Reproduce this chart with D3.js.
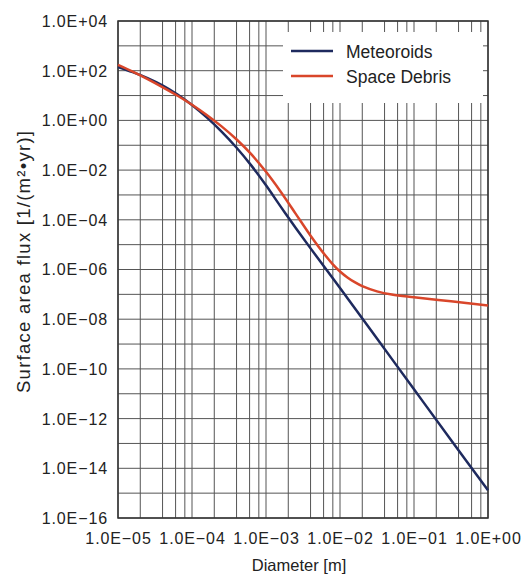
<!DOCTYPE html>
<html>
<head>
<meta charset="utf-8">
<script src="https://cdn.jsdelivr.net/npm/d3@7"></script>
<style>
  body { margin: 0; background: #fff; }
  text { font-family: "Liberation Sans", Arial, sans-serif; fill: #222; }
</style>
</head>
<body>
<svg id="chart" width="522" height="574"></svg>
<script>
// ——— DATA —————————————————————————————————————————————————————————
const meteoroidDiam = [1e-5, 1.58e-5, 2.51e-5, 3.98e-5, 6.31e-5, 1e-4, 1.58e-4, 2.51e-4, 3.98e-4, 6.31e-4,
    1e-3, 1.58e-3, 2.51e-3, 3.98e-3, 1e-2, 3.16e-2, 0.1, 0.316, 1.0];
const meteoroidFlux = [141, 87.1, 50.1, 25.7, 11.2, 4.17, 1.32, 0.355, 0.0813, 0.0155,
    2.45e-3, 3.39e-4, 4.79e-5, 7.24e-6, 1.82e-7, 1.66e-9, 1.51e-11, 1.38e-13, 1.32e-15];

const debrisDiam = [1e-5, 1.58e-5, 2.51e-5, 3.98e-5, 6.31e-5, 1e-4, 1.58e-4, 2.51e-4, 3.98e-4, 6.31e-4,
    1e-3, 1.58e-3, 2.51e-3, 3.98e-3, 6.31e-3, 7.94e-3, 1e-2, 1.26e-2, 1.58e-2, 2.0e-2,
    3.16e-2, 5.01e-2, 0.1, 0.316, 1.0];
const debrisFlux = [170, 91.2, 45.7, 21.9, 10, 4.27, 1.66, 0.575, 0.174, 0.0437,
    8.51e-3, 1.35e-3, 1.78e-4, 2.34e-5, 3.72e-6, 1.66e-6, 8.32e-7, 4.79e-7, 3.09e-7, 2.14e-7,
    1.32e-7, 9.77e-8, 7.59e-8, 5.25e-8, 3.55e-8];

const xTicks = [1e-5, 1e-4, 1e-3, 1e-2, 1e-1, 1e0];
const yTicks = [1e4, 1e2, 1e0, 1e-2, 1e-4, 1e-6, 1e-8, 1e-10, 1e-12, 1e-14, 1e-16];
const gridMult = [1, 2, 4, 6, 8];

const seriesNames = ["Meteoroids", "Space Debris"];
const seriesColors = ["#1e2a5e", "#d9462a"];

// ——— LAYOUT ———————————————————————————————————————————————————————
const margin = { top: 21, right: 34, bottom: 56, left: 118 };
const width = 522 - margin.left - margin.right;
const height = 574 - margin.top - margin.bottom;

const svg = d3.select("#chart");
const g = svg.append("g").attr("transform", `translate(${margin.left},${margin.top})`);

// ——— SCALES ———————————————————————————————————————————————————————
const xScale = d3.scaleLog().domain([1e-5, 1]).range([0, width]);
const yScale = d3.scaleLog().domain([1e-16, 1e4]).range([height, 0]);

function sciLabel(v) {
    const e = Math.round(Math.log10(v));
    const sign = e < 0 ? "\u2212" : "+";
    return "1.0E" + sign + String(Math.abs(e)).padStart(2, "0");
}

// ——— GRID —————————————————————————————————————————————————————————
const xGrid = [];
for (let e = -5; e < 0; e++) gridMult.forEach(m => xGrid.push(m * Math.pow(10, e)));
xGrid.push(1);
const yGrid = d3.range(-16, 5).map(e => Math.pow(10, e));

g.append("g")
    .selectAll("line")
    .data(xGrid)
    .enter().append("line")
    .attr("x1", d => xScale(d)).attr("x2", d => xScale(d))
    .attr("y1", 0).attr("y2", height)
    .attr("stroke", "#555").attr("stroke-width", 1);

g.append("g")
    .selectAll("line")
    .data(yGrid)
    .enter().append("line")
    .attr("y1", d => yScale(d)).attr("y2", d => yScale(d))
    .attr("x1", 0).attr("x2", width)
    .attr("stroke", "#555").attr("stroke-width", 1);

g.append("rect")
    .attr("width", width).attr("height", height)
    .attr("fill", "none").attr("stroke", "#333").attr("stroke-width", 1.5);

// ——— AXES —————————————————————————————————————————————————————————
const xaxis = d3.axisBottom(xScale).tickValues(xTicks).tickFormat(sciLabel).tickSize(0).tickPadding(0);
const yaxis = d3.axisLeft(yScale).tickValues(yTicks).tickFormat(sciLabel).tickSize(0).tickPadding(0);

const gx = g.append("g").attr("transform", `translate(0,${height})`).call(xaxis);
gx.select(".domain").remove();
gx.selectAll("text")
    .attr("y", 26).attr("dy", null)
    .style("font-size", "16px").style("letter-spacing", "0.9px")
    .style("font-family", '"Liberation Sans", Arial, sans-serif').attr("fill", "#222");

const gy = g.append("g").call(yaxis);
gy.select(".domain").remove();
gy.selectAll("text")
    .attr("x", -10).attr("dy", "0.34em")
    .style("font-size", "16px").style("letter-spacing", "0.9px")
    .style("font-family", '"Liberation Sans", Arial, sans-serif').attr("fill", "#222");

svg.append("text")
    .attr("x", 299).attr("y", 571)
    .attr("text-anchor", "middle")
    .style("font-size", "16.5px")
    .text("Diameter [m]");

svg.append("text")
    .attr("transform", "translate(30,262) rotate(-90)")
    .attr("text-anchor", "middle")
    .attr("textLength", 262).attr("lengthAdjust", "spacing")
    .style("font-size", "18.5px")
    .text("Surface area flux [1/(m\u00b2\u2022yr)]");

// ——— LINES ————————————————————————————————————————————————————————
const line = d3.line()
    .x(d => xScale(d[0]))
    .y(d => yScale(d[1]))
    .curve(d3.curveCatmullRom.alpha(0.5));

const series = [
    d3.zip(meteoroidDiam, meteoroidFlux),
    d3.zip(debrisDiam, debrisFlux)
];

g.selectAll("path.curve")
    .data(series)
    .enter().append("path")
    .attr("class", "curve")
    .attr("d", line)
    .attr("fill", "none")
    .attr("stroke", (d, i) => seriesColors[i])
    .attr("stroke-width", 2.5);

// ——— LEGEND ———————————————————————————————————————————————————————
const legend = svg.append("g");
legend.append("rect")
    .attr("x", 283).attr("y", 32).attr("width", 200).attr("height", 71)
    .attr("fill", "#fff");

seriesNames.forEach((name, i) => {
    const ly = 51 + i * 25;
    legend.append("line")
        .attr("x1", 291).attr("x2", 333).attr("y1", ly).attr("y2", ly)
        .attr("stroke", seriesColors[i]).attr("stroke-width", 2.5);
    legend.append("text")
        .attr("x", 346).attr("y", ly + 7)
        .style("font-size", "17.5px")
        .text(name);
});
</script>
</body>
</html>
